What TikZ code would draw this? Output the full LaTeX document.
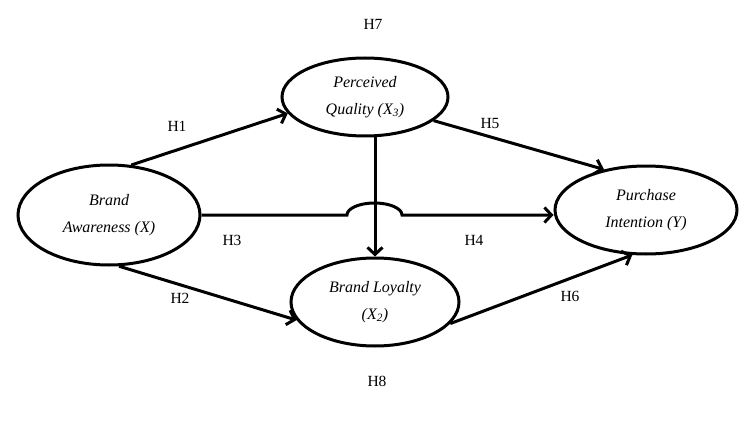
\documentclass[tikz,border=0pt]{standalone}
\usepackage{fontspec}
\setmainfont{Liberation Serif}
\usetikzlibrary{arrows.meta,shapes.geometric}
\tikzset{construct/.style={ellipse,draw,line width=3pt,inner sep=0pt,align=center,font=\fontsize{16}{27}\selectfont\itshape},
	link/.style={line width=3pt,-{Straight Barb[length=7pt,width=15pt]}},
	hyp/.style={font=\fontsize{15.5}{18}\selectfont}}

\begin{document}
\begin{tikzpicture}[x=1pt,y=-1pt]
		\useasboundingbox (0,0) rectangle (744,425);
		\node[construct,minimum width=182pt,minimum height=100pt] (ba) at (109,215) {Brand\\Awareness (X)};
		\node[construct,minimum width=166pt,minimum height=78pt] (pq) at (365,97) {Perceived\\Quality (X\textsubscript{3})};
		\node[construct,minimum width=168pt,minimum height=88pt] (bl) at (375,302) {Brand Loyalty\\(X\textsubscript{2})};
		\node[construct,minimum width=182pt,minimum height=88pt] (pi) at (646,210) {Purchase\\Intention (Y)};
		\draw[link] (ba.66) -- (pq.192);
		\draw[link] (ba.281) -- (bl.193);
		\draw[link] (bl.north |- pq.south) -- (bl.north);
		\draw[link] (ba.east) -- (347,215) arc[start angle=180,end angle=0,x radius=27.5pt,y radius=12pt] -- (pi.west |- ba.east);
		\draw[link] (pq.341) -- (pi.136);
		\draw[link] (bl.344) -- (pi.253);
		\node[hyp] (h7) at (373,24) {H7};
		\node[hyp] (h1) at (177,126) {H1};
		\node[hyp] (h5) at (490,124) {H5};
		\node[hyp] (h3) at (232,240) {H3};
		\node[hyp] (h4) at (474,240) {H4};
		\node[hyp] (h2) at (180,298) {H2};
		\node[hyp] (h6) at (570,296) {H6};
		\node[hyp] (h8) at (377,381) {H8};
\end{tikzpicture}
\end{document}
